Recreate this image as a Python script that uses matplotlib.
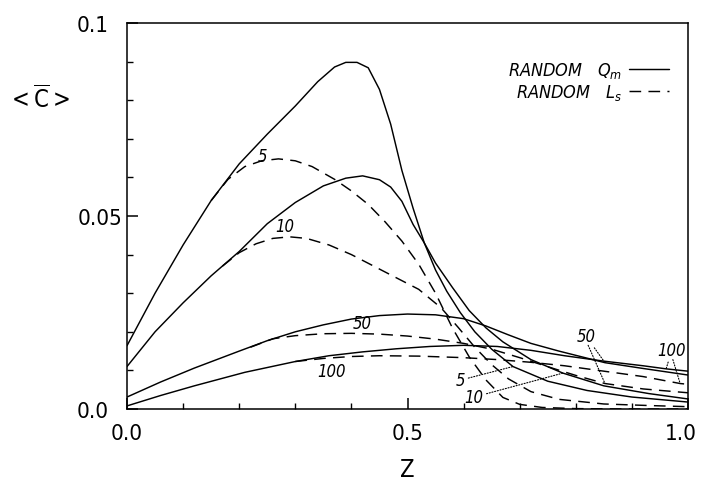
import matplotlib
matplotlib.use("Agg")
import matplotlib.pyplot as plt
import matplotlib.transforms as mtransforms
from matplotlib import font_manager
from matplotlib.lines import Line2D
from matplotlib.ticker import MultipleLocator

# ---- fonts -------------------------------------------------------------
available = {f.name for f in font_manager.fontManager.ttflist}
NARROW = "Liberation Sans Narrow" if "Liberation Sans Narrow" in available else "DejaVu Sans"
plt.rcParams["font.family"] = [NARROW, "DejaVu Sans"]
plt.rcParams["font.stretch"] = "condensed"
plt.rcParams["mathtext.fontset"] = "custom"
plt.rcParams["mathtext.rm"] = NARROW + ":stretch=condensed"
plt.rcParams["mathtext.it"] = NARROW + ":style=italic:stretch=condensed"

# ---- data: <C> versus Z for random Qm (solid) and random Ls (dashed) ----
qm5_z = [0, 0.05, 0.10, 0.15, 0.20, 0.25, 0.30, 0.34, 0.37, 0.39, 0.41, 0.43,
         0.45, 0.47, 0.49, 0.51, 0.53, 0.55, 0.57, 0.594, 0.62, 0.65, 0.688,
         0.75, 0.82, 0.90, 1.0]
qm5_c = [0.0164, 0.030, 0.0425, 0.054, 0.0635, 0.0712, 0.0785, 0.0848, 0.0886,
         0.0898, 0.0898, 0.0884, 0.0828, 0.0738, 0.0618, 0.052, 0.043, 0.036,
         0.0305, 0.025, 0.020, 0.0155, 0.011, 0.0072, 0.0048, 0.0031, 0.0018]

qm10_z = [0, 0.05, 0.10, 0.15, 0.20, 0.25, 0.30, 0.35, 0.39, 0.42, 0.45, 0.47,
          0.49, 0.51, 0.53, 0.55, 0.58, 0.61, 0.64, 0.67, 0.72, 0.777, 0.85,
          0.93, 1.0]
qm10_c = [0.011, 0.020, 0.0275, 0.0345, 0.0408, 0.048, 0.0535, 0.0578, 0.0598,
          0.0604, 0.0594, 0.0575, 0.0538, 0.0478, 0.043, 0.0378, 0.0315, 0.0255,
          0.021, 0.0174, 0.0128, 0.0093, 0.006, 0.004, 0.0026]

qm50_z = [0, 0.06, 0.12, 0.20, 0.25, 0.30, 0.35, 0.40, 0.45, 0.50, 0.55, 0.60,
          0.64, 0.68, 0.72, 0.77, 0.852, 0.92, 1.0]
qm50_c = [0.0031, 0.007, 0.0106, 0.015, 0.0177, 0.0200, 0.0218, 0.0233, 0.0242,
          0.0246, 0.0244, 0.0234, 0.0215, 0.0192, 0.017, 0.015, 0.0120, 0.0105,
          0.0088]

qm100_z = [0, 0.06, 0.12, 0.21, 0.30, 0.36, 0.42, 0.48, 0.54, 0.60, 0.66, 0.72,
           0.78, 0.85, 0.92, 0.961, 1.0]
qm100_c = [0.0008, 0.0035, 0.006, 0.0095, 0.0123, 0.0138, 0.0148, 0.0156, 0.0162,
           0.0165, 0.0162, 0.0152, 0.0138, 0.0124, 0.0112, 0.0104, 0.0098]

ls5_z = [0.15, 0.18, 0.21, 0.24, 0.27, 0.30, 0.33, 0.37, 0.40, 0.43, 0.46, 0.49,
         0.52, 0.55, 0.58, 0.61, 0.64, 0.67, 0.70, 0.74, 0.80, 0.90, 1.0]
ls5_c = [0.054, 0.0595, 0.0628, 0.0643, 0.0648, 0.0643, 0.0628, 0.0595, 0.0565,
         0.053, 0.0485, 0.0435, 0.0375, 0.030, 0.021, 0.0135, 0.0075, 0.003,
         0.0012, 0.0004, 0.0001, 0.0, 0.0]

ls10_z = [0.17, 0.20, 0.23, 0.26, 0.29, 0.32, 0.36, 0.40, 0.44, 0.48, 0.52, 0.56,
          0.59, 0.62, 0.65, 0.68, 0.72, 0.77, 0.85, 0.93, 1.0]
ls10_c = [0.037, 0.0405, 0.0428, 0.0442, 0.0446, 0.0442, 0.0425, 0.040, 0.037,
          0.034, 0.031, 0.0262, 0.0212, 0.016, 0.0115, 0.0078, 0.0045, 0.0025,
          0.0013, 0.0009, 0.0006]

ls50_z = [0.22, 0.26, 0.30, 0.35, 0.40, 0.45, 0.50, 0.55, 0.60, 0.65, 0.70,
          0.76, 0.80, 0.852, 0.92, 1.0]
ls50_c = [0.016, 0.0182, 0.0190, 0.0195, 0.0196, 0.0194, 0.0189, 0.0181, 0.0170,
          0.0155, 0.0133, 0.0105, 0.0087, 0.0066, 0.0052, 0.0042]

ls100_z = [0.30, 0.35, 0.40, 0.45, 0.52, 0.60, 0.66, 0.72, 0.78, 0.85, 0.92,
           0.986, 1.0]
ls100_c = [0.0123, 0.0131, 0.0136, 0.0138, 0.0137, 0.0133, 0.0128, 0.0121,
           0.0112, 0.0098, 0.0084, 0.0066, 0.0064]

x_ticks = [0.0, 0.5, 1.0]
x_tick_labels = ["0.0", "0.5", "1.0"]
y_ticks = [0.0, 0.05, 0.1]
y_tick_labels = ["0.0", "0.05", "0.1"]

# ---- figure ------------------------------------------------------------
fig = plt.figure(figsize=(7.01, 4.81), dpi=100)
ax = fig.add_axes([127 / 701, 71 / 481, 561 / 701, 386 / 481])

solid = dict(color="black", lw=1.05, solid_capstyle="round")
dashed = dict(color="black", lw=1.05, linestyle=(0, (8, 5)))

for z, c in [(qm5_z, qm5_c), (qm10_z, qm10_c), (qm50_z, qm50_c), (qm100_z, qm100_c)]:
    ax.plot(z, c, **solid)
for z, c in [(ls5_z, ls5_c), (ls10_z, ls10_c), (ls50_z, ls50_c), (ls100_z, ls100_c)]:
    ax.plot(z, c, **dashed)

ax.set_xlim(0, 1.0)
ax.set_ylim(0, 0.1)
ax.set_xticks(x_ticks)
ax.set_xticklabels(x_tick_labels)
ax.set_yticks(y_ticks)
ax.set_yticklabels(y_tick_labels)
ax.xaxis.set_minor_locator(MultipleLocator(0.1))
ax.yaxis.set_minor_locator(MultipleLocator(0.01))
ax.tick_params(which="major", direction="in", length=8, width=1.1,
               labelsize=16, pad=10)
ax.tick_params(which="minor", direction="in", length=4.5, width=1.0)
ax.tick_params(axis="y", which="major", pad=13)
for tick, lab in zip(ax.yaxis.get_major_ticks(), y_tick_labels):
    if lab == "0.05":
        tick.set_pad(3)
# nudge the right-most x label so it stays inside the canvas
last = ax.get_xticklabels()[-1]
last.set_transform(last.get_transform() +
                   mtransforms.ScaledTranslation(-5 / 72, 0, fig.dpi_scale_trans))
for sp in ax.spines.values():
    sp.set_linewidth(1.1)

# axis titles
fig.text(38 / 701, 1 - 100 / 481, r"$<\overline{\mathrm{C}}>$", fontsize=17,
         ha="center", va="center")
fig.text(407 / 701, 1 - 470 / 481, "Z", fontsize=17, ha="center", va="center")

# legend: label text followed by line sample
handles = [Line2D([], [], **solid), Line2D([], [], **dashed)]
leg = ax.legend(handles, [r"RANDOM   $Q_m$", r"RANDOM   $L_s$"],
                loc="upper right", bbox_to_anchor=(0.995, 0.945), frameon=False,
                markerfirst=False, prop=dict(size=13, style="italic"),
                handlelength=2.2, handletextpad=0.4, labelspacing=0.1)

# curve labels
lab_kw = dict(fontsize=12, style="italic", ha="center", va="center")
ax.text(0.242, 0.0655, "5", **lab_kw)
ax.text(0.282, 0.0474, "10", **lab_kw)
ax.text(0.419, 0.0223, "50", **lab_kw)
ax.text(0.365, 0.0098, "100", **lab_kw)

leader = dict(arrowstyle="-", linestyle=(0, (1, 1.5)), lw=0.8, color="black",
              shrinkA=0, shrinkB=0)
ax.annotate("5", xy=(0.688, 0.0110), xytext=(0.595, 0.0075),
            arrowprops=leader, **lab_kw)
ax.annotate("10", xy=(0.777, 0.0093), xytext=(0.619, 0.0031),
            arrowprops=leader, **lab_kw)
ax.annotate("50", xy=(0.852, 0.0120), xytext=(0.818, 0.0189),
            arrowprops=leader, **lab_kw)
ax.annotate("", xy=(0.852, 0.0066), xytext=(0.822, 0.0165), arrowprops=leader)
ax.annotate("100", xy=(0.961, 0.0104), xytext=(0.971, 0.0152),
            arrowprops=leader, **lab_kw)
ax.annotate("", xy=(0.986, 0.0066), xytext=(0.973, 0.0128), arrowprops=leader)

fig.savefig("out.png", dpi=100)
